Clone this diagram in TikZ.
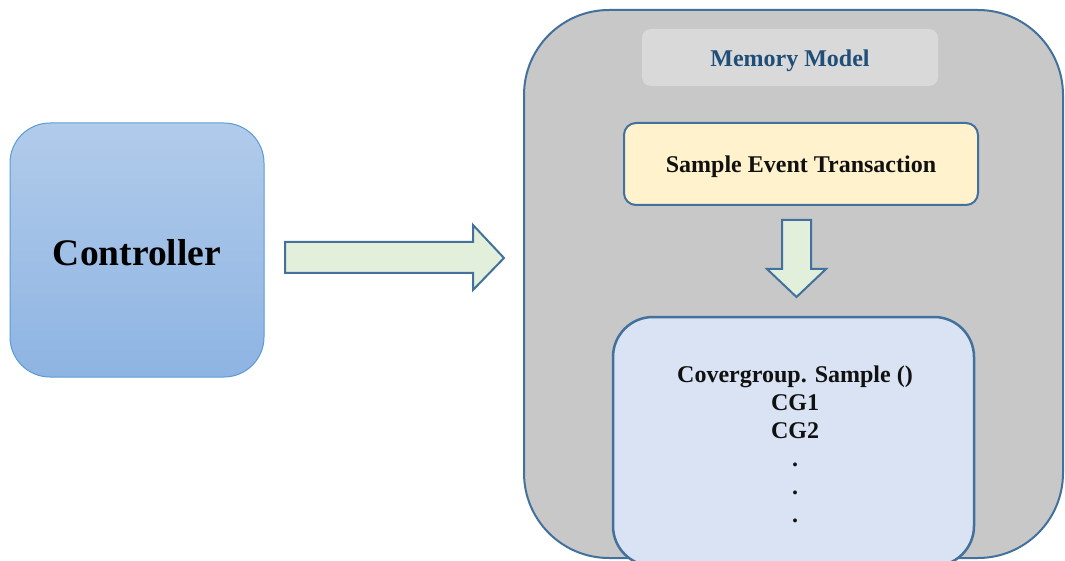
\documentclass[tikz,border=0pt]{standalone}
\usepackage{fontspec}
\setmainfont{Liberation Serif}
\definecolor{edgeblue}{HTML}{41719C}
\definecolor{ctrlborder}{HTML}{5B9BD5}
\definecolor{ctrltop}{HTML}{B1CBEA}
\definecolor{ctrlbot}{HTML}{8EB4E3}
\definecolor{outergray}{HTML}{C8C8C8}
\definecolor{labelgray}{HTML}{D9D9D9}
\definecolor{labeltext}{HTML}{1F4E79}
\definecolor{noteyellow}{HTML}{FFF2CC}
\definecolor{paleblue}{HTML}{DAE3F3}
\definecolor{arrowgreen}{HTML}{E2EFDA}
\definecolor{textdark}{HTML}{111111}
\tikzset{
  ctrlbox/.style={draw=ctrlborder, line width=1pt, top color=ctrltop, bottom color=ctrlbot, rounded corners=40pt, minimum width=254pt, minimum height=254pt, inner sep=0pt},
  outerbox/.style={draw=edgeblue, line width=2pt, fill=outergray, rounded corners=85pt, minimum width=539pt, minimum height=548pt, inner sep=0pt},
  labelbox/.style={fill=labelgray, rounded corners=9pt, minimum width=296pt, minimum height=57pt, inner sep=0pt},
  eventbox/.style={draw=edgeblue, line width=2pt, fill=noteyellow, rounded corners=12pt, minimum width=354pt, minimum height=82pt, inner sep=0pt},
  groupbox/.style={draw=edgeblue, line width=2.5pt, fill=paleblue, rounded corners=40pt, minimum width=361pt, minimum height=249pt, inner sep=0pt},
  blockarrow/.style={draw=edgeblue, line width=2pt, fill=arrowgreen, line join=miter},
  boldtext/.style={font=\fontsize{24}{28}\selectfont\bfseries, text=textdark, align=center},
}
\begin{document}
\begin{tikzpicture}[x=1pt, y=-1pt]
\useasboundingbox (0,0) rectangle (1065,561);
\clip (0,0) rectangle (1065,561);
% controller
\node[ctrlbox] (ctrl) at (137,250) {};
\node[font=\fontsize{37.5}{40}\selectfont\bfseries, text=black] (ctrltext) at (137,253) {Controller};
% outer memory model box
\node[outerbox] (mem) at (793.5,284) {};
\node[labelbox] (memlabel) at (790,57.5) {};
\node[font=\fontsize{24}{28}\selectfont\bfseries, text=labeltext] (memtext) at (790,61) {Memory Model};
\node[eventbox] (event) at (801,164) {};
\node[boldtext] (eventtext) at (801,167) {Sample Event Transaction};
\node[groupbox] (group) at (793.5,441.5) {};
\node[boldtext, anchor=north] (grouptext) at (795,362) {Covergroup. Sample ()\\CG1\\CG2\\.\\.\\.};
% right block arrow
\draw[blockarrow] (285,242) -- (473,242) -- (473,225) -- (504,258) -- (473,290) -- (473,273) -- (285,273) -- cycle;
% down block arrow
\draw[blockarrow] (782,220) -- (811,220) -- (811,269) -- (826,269) -- (796.5,297) -- (767,269) -- (782,269) -- cycle;
\end{tikzpicture}
\end{document}
